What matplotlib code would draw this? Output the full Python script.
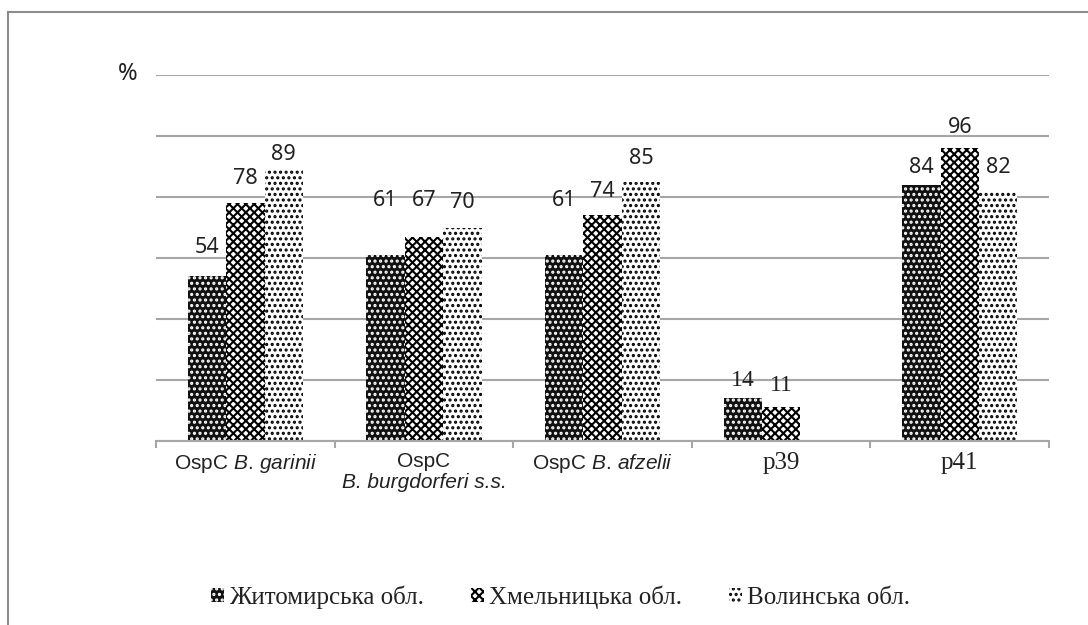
import numpy as np
import matplotlib
matplotlib.use("Agg")
import matplotlib.pyplot as plt
from matplotlib.lines import Line2D

# data
groups = ["OspC $\\mathit{B.\\,garinii}$",
          "OspC",
          "OspC $\\mathit{B.\\,afzelii}$",
          "p39", "p41"]
subtitle2 = "B. burgdorferi s.s."
series = ["Житомирська обл.", "Хмельницька обл.", "Волинська обл."]
zhytomyr = [54, 61, 61, 14, 84]
khmelnytsk = [78, 67, 74, 11, 96]
volyn = [89, 70, 85, None, 82]

plt.rcParams["mathtext.fontset"] = "custom"
plt.rcParams["mathtext.rm"] = "Liberation Sans"
plt.rcParams["mathtext.it"] = "Liberation Sans:italic"
plt.rcParams["hatch.linewidth"] = 1.5

fig = plt.figure(figsize=(10.88, 6.25), dpi=100)
ax = fig.add_axes([0.1434, 0.2944, 0.8208, 0.5856])

gray = "#a6a6a6"
txt = "#222222"
x = np.arange(len(groups))
w = 0.215
styles = [dict(facecolor="#111111", edgecolor="white", hatch="..."),
          dict(facecolor="white", edgecolor="black", hatch="xxxx"),
          dict(facecolor="white", edgecolor="black", hatch="...")]
# label offsets above bar top (px), roughly as in the original
label_dy = [[29, 54, 54, 18, 17],
            [25, 36, 24, 22, 21],
            [15, 25, 23, 0, 23]]

for i, vals in enumerate([zhytomyr, khmelnytsk, volyn]):
    pos = x + (i - 1) * w
    h = [v if v is not None else 0 for v in vals]
    ax.bar(pos, h, width=w, linewidth=0, label=series[i], **styles[i])
    for j, v in enumerate(vals):
        if v is None:
            continue
        if j == 3:
            fam, fs = "Liberation Serif", 17
        else:
            fam, fs = "Noto Sans", 15.5
        ax.annotate(str(v), (pos[j], v), xytext=(0, label_dy[i][j] * 0.72),
                    textcoords="offset points", ha="center", va="center",
                    fontsize=fs, family=fam, color=txt)

ax.set_xlim(-0.5, len(groups) - 0.5)
ax.set_ylim(0, 120)
ax.set_yticks(range(0, 121, 20))
ax.yaxis.grid(True, color=gray, linewidth=1.5)
ax.set_axisbelow(True)
ax.tick_params(axis="y", length=0, labelleft=False)

ax.set_xticks(x)
ax.set_xticklabels(groups, fontsize=15, family="Liberation Sans", color=txt)
for lbl in ax.get_xticklabels()[3:]:
    lbl.set_fontfamily("Liberation Serif")
    lbl.set_fontsize(18)
ax.tick_params(axis="x", which="major", length=0, pad=8)
ax.set_xticks(np.arange(-0.5, len(groups)), minor=True)
ax.tick_params(axis="x", which="minor", length=5, width=1.5, color=gray)
ax.annotate(subtitle2, (x[1], 0), xycoords=("data", "axes fraction"),
            xytext=(0, -30), textcoords="offset points", ha="center", va="center",
            fontsize=15, family="Liberation Sans", style="italic", color=txt)

for s in ["top", "right", "left"]:
    ax.spines[s].set_visible(False)
ax.spines["bottom"].set_color(gray)
ax.spines["bottom"].set_linewidth(1.5)

fig.text(128 / 1088, 1 - 74 / 625, "%", fontsize=17, family="Noto Sans",
         ha="center", va="center", color=txt)

leg = fig.legend(loc="center", bbox_to_anchor=(0.515, 1 - 597 / 625), ncol=3,
                 frameon=False, prop={"family": "Liberation Serif", "size": 18},
                 handlelength=0.5, handleheight=0.5, handletextpad=0.2,
                 columnspacing=1.9)
for t in leg.get_texts():
    t.set_color(txt)

# outer chart border (only left and top edges are visible)
fig.add_artist(Line2D([8 / 1088, 8 / 1088], [0, 1 - 12 / 625], color="#8c8c8c",
                      linewidth=1.5, transform=fig.transFigure))
fig.add_artist(Line2D([8 / 1088, 1], [1 - 12 / 625, 1 - 12 / 625], color="#8c8c8c",
                      linewidth=1.5, transform=fig.transFigure))

plt.savefig("out.png", dpi=100)
